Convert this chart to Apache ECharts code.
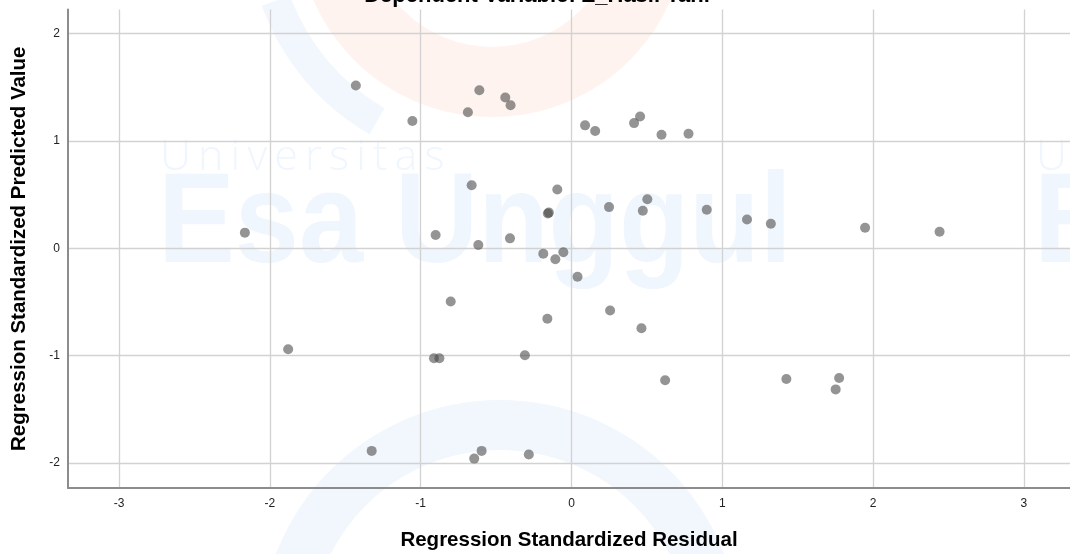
<!DOCTYPE html>
<html>
<head>
<meta charset="utf-8">
<script src="https://cdn.jsdelivr.net/npm/echarts@6/dist/echarts.min.js"></script>
<style>
html,body{margin:0;padding:0;background:#fff;}
#chart{width:1070px;height:554px;}
</style>
</head>
<body>
<div id="chart"></div>
<script>
// ---- data ----
const chartTitle = 'Dependent Variable: Z_Hasil Tani';
const xAxisTitle = 'Regression Standardized Residual';
const yAxisTitle = 'Regression Standardized Predicted Value';
const xTicks = [-3, -2, -1, 0, 1, 2, 3];
const yTicks = [-2, -1, 0, 1, 2];
const residuals = [
  -2.166, -1.879, -1.430, -1.325, -1.055, -0.901, -0.912, -0.876, -0.801, -0.687,
  -0.662, -0.611, -0.618, -0.645, -0.596, -0.439, -0.404, -0.408, -0.309, -0.283,
  -0.187, -0.160, -0.157, -0.150, -0.107, -0.094, -0.054, 0.040, 0.090, 0.157,
  0.249, 0.256, 0.415, 0.455, 0.464, 0.473, 0.503, 0.597, 0.621, 0.776,
  0.897, 1.164, 1.322, 1.425, 1.752, 1.775, 1.947, 2.441
];
const predicted = [
  0.146, -0.941, 1.517, -1.888, 1.186, 0.124, -1.025, -1.025, -0.495, 1.269,
  0.588, 1.474, 0.031, -1.960, -1.888, 1.406, 1.334, 0.093, -0.997, -1.922,
  -0.050, -0.657, 0.325, 0.333, -0.102, 0.548, -0.037, -0.265, 1.146, 1.093,
  0.384, -0.579, 1.167, 1.229, -0.745, 0.350, 0.458, 1.059, -1.230, 1.068,
  0.359, 0.269, 0.229, -1.218, -1.315, -1.209, 0.192, 0.155
];
const xRange = [-3.339, 3.306];
const yRange = [-2.234, 2.226];

const points = residuals.map((x, i) => [x, predicted[i]]);

const wm = '#f0f6fe';
const wmArc = '#f2f7fe';
const font = '"Liberation Sans", Arial, sans-serif';

function watermark(dx) {
  return [
    {
      type: 'text', z: -5, x: 160 + dx, y: 158,
      style: { text: 'U\u2009n\u2009i\u2009v\u2009e\u2009r\u2009s\u2009i\u2009t\u2009a\u2009s', font: '300 43px "Open Sans", sans-serif', fill: wm, verticalAlign: 'middle' }
    },
    {
      type: 'text', z: -5, x: 158 + dx, y: 227, scaleX: 0.9,
      style: { text: 'Esa Unggul', font: 'bold 128px ' + font, fill: wm, verticalAlign: 'middle' }
    }
  ];
}

const chart = echarts.init(document.getElementById('chart'), null, { renderer: 'canvas' });
chart.setOption({
  animation: false,
  backgroundColor: '#fff',
  graphic: [
    { type: 'sector', z: -6, shape: { cx: 492, cy: -78, r: 195, r0: 125, startAngle: 0, endAngle: Math.PI }, style: { fill: '#fef3ee' } },
    { type: 'sector', z: -6, shape: { cx: 492, cy: -78, r: 245, r0: 215, startAngle: 120 * Math.PI / 180, endAngle: 160 * Math.PI / 180 }, style: { fill: wmArc } },
    { type: 'sector', z: -6, shape: { cx: 500, cy: 640, r: 240, r0: 190, startAngle: Math.PI, endAngle: 2 * Math.PI }, style: { fill: wmArc } },
    ...watermark(0),
    ...watermark(876),
    {
      type: 'text', z: 10, x: 537, y: -4,
      style: { text: chartTitle, font: 'bold 22px ' + font, fill: '#000', align: 'center', verticalAlign: 'middle' }
    }
  ],
  grid: { left: 68, right: 0, top: 9.5, bottom: 66, containLabel: false, outerBoundsMode: 'none' },
  xAxis: {
    type: 'value', min: xRange[0], max: xRange[1],
    name: xAxisTitle, nameLocation: 'middle', nameGap: 42,
    nameTextStyle: { fontFamily: font, fontWeight: 'bold', fontSize: 20.5, color: '#000' },
    axisLine: { show: true, onZero: false, lineStyle: { color: '#8c8c8c', width: 2 } },
    axisTick: { show: false, customValues: xTicks },
    axisLabel: { customValues: xTicks, margin: 10, fontFamily: font, fontSize: 12, color: '#222' },
    splitLine: { show: true, lineStyle: { color: '#d2d2d2', width: 1.3 } }
  },
  yAxis: {
    type: 'value', min: yRange[0], max: yRange[1],
    name: yAxisTitle, nameLocation: 'middle', nameGap: 38,
    nameTextStyle: { fontFamily: font, fontWeight: 'bold', fontSize: 20.5, color: '#000' },
    axisLine: { show: true, onZero: false, lineStyle: { color: '#8c8c8c', width: 2 } },
    axisTick: { show: false, customValues: yTicks },
    axisLabel: { customValues: yTicks, margin: 8, fontFamily: font, fontSize: 12, color: '#222' },
    splitLine: { show: true, lineStyle: { color: '#d2d2d2', width: 1.3 } }
  },
  series: [{
    type: 'scatter',
    data: points,
    symbol: 'circle',
    symbolSize: 10,
    itemStyle: { color: 'rgba(70,70,70,0.72)' }
  }]
});
</script>
</body>
</html>
